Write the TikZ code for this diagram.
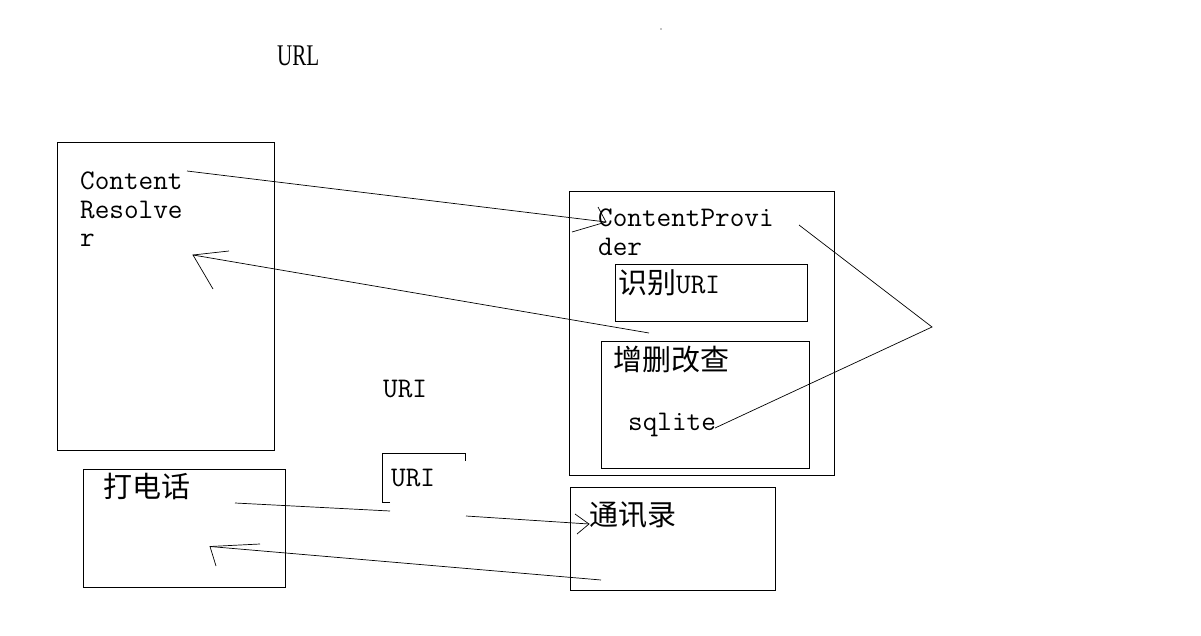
\documentclass[tikz,border=0pt]{standalone}
\usepackage{fontspec}
\newcommand\mono{\ttfamily\fontsize{28.4}{28.4}\selectfont}
\newfontfamily\cjk{Noto Sans CJK SC}
\newfontfamily\urlfont[FakeStretch=0.7]{Liberation Serif}
\begin{document}
\begin{tikzpicture}[x=1pt,y=-1pt,
  box/.style={draw, line width=0.9pt, anchor=north west, inner sep=0pt},
  lbl/.style={anchor=base west, inner sep=0pt},
  ln/.style={line width=0.7pt},
  mt/.style={lbl, font=\mono},
  ct/.style={lbl, font=\cjk\fontsize{29}{29}\selectfont}]
\fill[white] (0,0) rectangle (1201,636);
\useasboundingbox (0,0) rectangle (1201,636);

% boxes
\node[box, minimum width=217pt, minimum height=308pt] (cr) at (57,142) {};
\node[box, minimum width=265pt, minimum height=284pt] (cp) at (569,191) {};
\node[box, minimum width=192pt, minimum height=57pt] (uribox) at (615,264) {};
\node[box, minimum width=208pt, minimum height=127pt] (crud) at (601,341) {};
\node[box, minimum width=202pt, minimum height=118pt] (call) at (83,469) {};
\node[box, minimum width=205pt, minimum height=103pt] (contacts) at (570,487) {};

% texts
\node[lbl, font=\urlfont\fontsize{30}{30}\selectfont] (url) at (277,66) {URL};
\node[mt] (cr1) at (80,190) {Content};
\node[mt] (cr2) at (80,219) {Resolve};
\node[mt] (cr3) at (80,247) {r};
\node[mt] (cp1) at (598,227) {ContentProvi};
\node[mt] (cp2) at (598,255) {der};
\node[lbl] (urit) at (618,293) {{\cjk\fontsize{29}{29}\selectfont 识别}{\mono URI}};
\node[ct] (crudt) at (613,370) {增删改查};
\node[mt] (sql) at (628,430) {sqlite};
\node[mt] (miduri) at (383,397) {URI};
\node[ct] (callt) at (103,497) {打电话};
\node[mt] (bruri) at (391,486) {URI};
\node[ct] (contt) at (589,525) {通讯录};

% coordinates
\coordinate (a1s) at (187,171);
\coordinate (a1t) at (606,222);
\coordinate (a1b1) at (598,207);
\coordinate (a1b2) at (572,232);
\coordinate (a2s) at (649,333);
\coordinate (a2t) at (193,255);
\coordinate (a2b1) at (229,251);
\coordinate (a2b2) at (213,289);
\coordinate (s1) at (715,428);
\coordinate (s2) at (932,327);
\coordinate (s3) at (799,225);
\coordinate (c1) at (235,503);
\coordinate (c2) at (390,511);
\coordinate (u1) at (466,516);
\coordinate (u2) at (589,524);
\coordinate (u2b1) at (575,514);
\coordinate (u2b2) at (577,534);
\coordinate (r1) at (601,580);
\coordinate (r2) at (210,546.5);
\coordinate (r2b1) at (260,544);
\coordinate (r2b2) at (216,566);
\coordinate (k1) at (390,502);
\coordinate (k2) at (382,502);
\coordinate (k3) at (382,453);
\coordinate (k4) at (465,453);
\coordinate (k5) at (465,461);

% connectors
\draw[ln] (a1s) -- (a1t);
\draw[ln] (a1b1) -- (a1t) -- (a1b2);
\draw[ln] (a2s) -- (a2t);
\draw[ln] (a2b1) -- (a2t) -- (a2b2);
\draw[ln] (s1) -- (s2) -- (s3);
\draw[ln] (c1) -- (c2);
\draw[ln] (u1) -- (u2);
\draw[ln] (u2b1) -- (u2) -- (u2b2);
\draw[ln] (r1) -- (r2);
\draw[ln] (r2b1) -- (r2) -- (r2b2);
\draw[line width=0.9pt] (k1) -- (k2) -- (k3) -- (k4) -- (k5);
\fill (661,29) circle (0.6pt);
\end{tikzpicture}
\end{document}
